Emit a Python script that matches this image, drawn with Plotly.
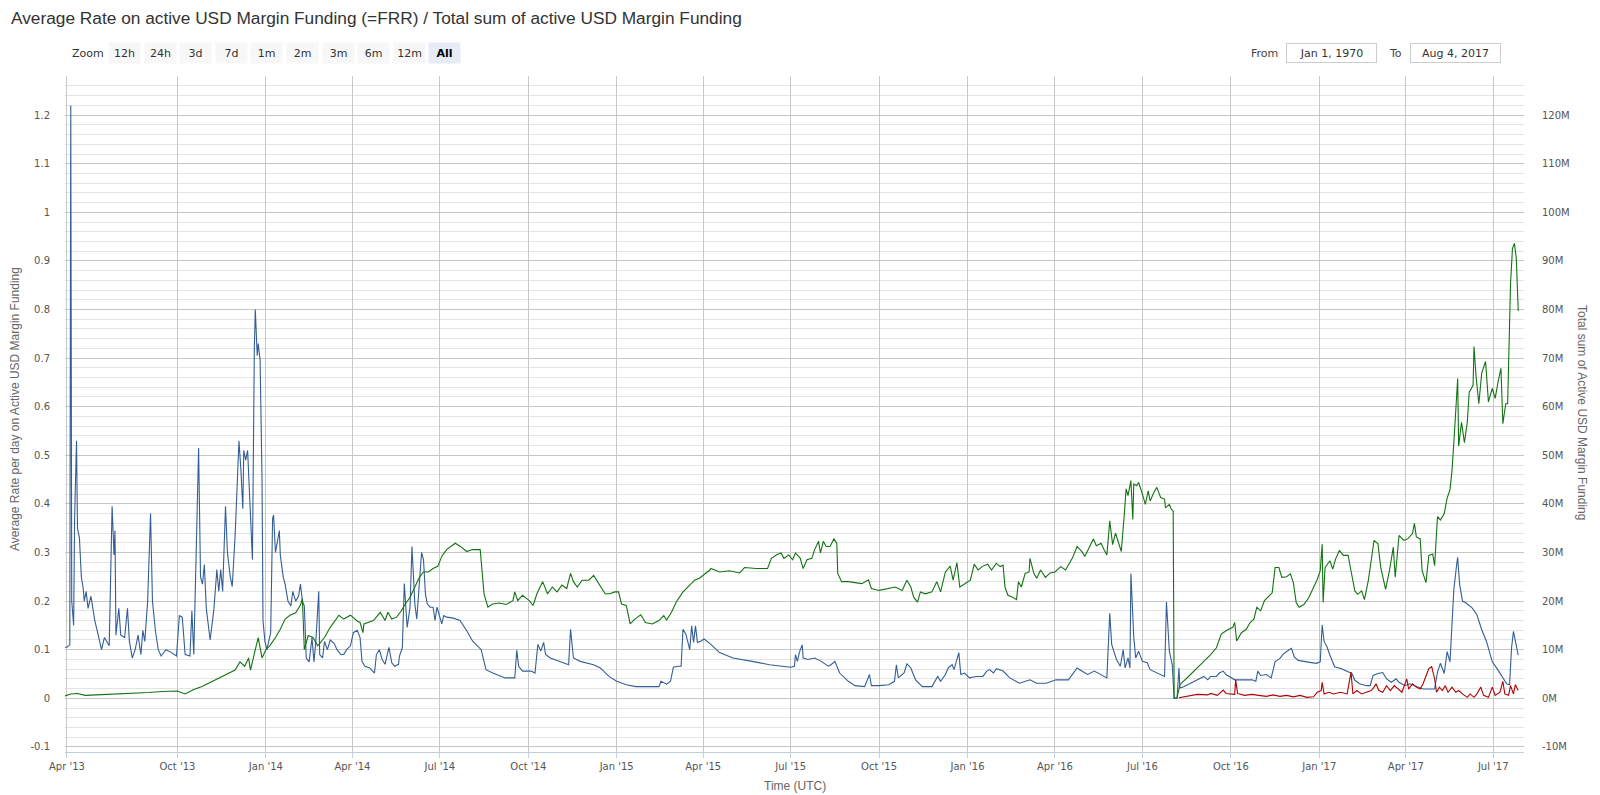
import plotly.graph_objects as go

# ---- data ----
# blue: average rate per day (left axis)
rate_dates = [
    "2013-03-30", "2013-04-01", "2013-04-04", "2013-04-05", "2013-04-06", "2013-04-08", "2013-04-09",
    "2013-04-10", "2013-04-11", "2013-04-12", "2013-04-13", "2013-04-14", "2013-04-16", "2013-04-18",
    "2013-04-19", "2013-04-21", "2013-04-23", "2013-04-26", "2013-04-28", "2013-04-30", "2013-05-03",
    "2013-05-07", "2013-05-10", "2013-05-15", "2013-05-18", "2013-05-20", "2013-05-21", "2013-05-22",
    "2013-05-25", "2013-05-27", "2013-05-31", "2013-06-03", "2013-08-12", "2013-08-15", "2013-08-18",
    "2013-08-21", "2013-08-24", "2013-08-26", "2013-08-28", "2013-08-31", "2013-09-03", "2013-09-05",
    "2013-09-08", "2013-09-11", "2013-09-14", "2013-09-19", "2013-09-24", "2013-09-30", "2013-10-03",
    "2013-10-06", "2013-10-09", "2013-10-14", "2013-10-16", "2013-10-18", "2013-10-21", "2013-10-23",
    "2013-10-25", "2013-10-27", "2013-10-29", "2013-10-31", "2013-11-04", "2013-11-08", "2013-11-11",
    "2013-11-13", "2013-11-15", "2013-11-17", "2013-11-20", "2013-11-22", "2013-11-25", "2013-11-27",
    "2013-11-30", "2013-12-02", "2013-12-04", "2013-12-06", "2013-12-08", "2013-12-09", "2013-12-11",
    "2013-12-13", "2013-12-15", "2013-12-16", "2013-12-18", "2013-12-20", "2013-12-21", "2013-12-23",
    "2013-12-24", "2013-12-26", "2013-12-28", "2013-12-29", "2013-12-31", "2014-01-02", "2014-01-04",
    "2014-01-06", "2014-01-08", "2014-01-09", "2014-01-11", "2014-01-13", "2014-01-15", "2014-01-16",
    "2014-01-19", "2014-01-21", "2014-01-24", "2014-01-27", "2014-01-29", "2014-02-01", "2014-02-04",
    "2014-02-06", "2014-02-08", "2014-02-10", "2014-02-12", "2014-02-15", "2014-02-18", "2014-02-20",
    "2014-02-22", "2014-02-25", "2014-02-26", "2014-03-01", "2014-03-03", "2014-03-06", "2014-03-09",
    "2014-03-13", "2014-03-16", "2014-03-20", "2014-03-23", "2014-03-26", "2014-03-30", "2014-04-02",
    "2014-04-06", "2014-04-09", "2014-04-11", "2014-04-14", "2014-04-19", "2014-04-24", "2014-04-26",
    "2014-04-29", "2014-05-02", "2014-05-05", "2014-05-09", "2014-05-12", "2014-05-15", "2014-05-19",
    "2014-05-20", "2014-05-23", "2014-05-25", "2014-05-28", "2014-05-31", "2014-06-02", "2014-06-05",
    "2014-06-07", "2014-06-10", "2014-06-12", "2014-06-14", "2014-06-16", "2014-06-18", "2014-06-21",
    "2014-06-24", "2014-06-26", "2014-06-28", "2014-07-03", "2014-07-05", "2014-07-08", "2014-07-15",
    "2014-07-22", "2014-07-29", "2014-08-04", "2014-08-13", "2014-08-18", "2014-08-25", "2014-09-07",
    "2014-09-17", "2014-09-19", "2014-09-21", "2014-09-25", "2014-10-04", "2014-10-08", "2014-10-11",
    "2014-10-14", "2014-10-17", "2014-10-19", "2014-10-24", "2014-11-04", "2014-11-12", "2014-11-14",
    "2014-11-17", "2014-11-24", "2014-12-08", "2014-12-15", "2014-12-24", "2015-01-01", "2015-01-11",
    "2015-01-21", "2015-02-04", "2015-02-14", "2015-02-16", "2015-02-22", "2015-02-26", "2015-03-01",
    "2015-03-06", "2015-03-09", "2015-03-11", "2015-03-14", "2015-03-18", "2015-03-20", "2015-03-22",
    "2015-03-24", "2015-03-26", "2015-03-30", "2015-04-02", "2015-04-09", "2015-04-18", "2015-05-02",
    "2015-05-22", "2015-06-09", "2015-06-22", "2015-07-01", "2015-07-05", "2015-07-06", "2015-07-08",
    "2015-07-10", "2015-07-13", "2015-07-14", "2015-07-19", "2015-07-26", "2015-08-02", "2015-08-09",
    "2015-08-12", "2015-08-16", "2015-08-21", "2015-08-30", "2015-09-06", "2015-09-16", "2015-09-21",
    "2015-09-23", "2015-10-01", "2015-10-11", "2015-10-17", "2015-10-19", "2015-10-21", "2015-10-27",
    "2015-10-30", "2015-11-03", "2015-11-08", "2015-11-15", "2015-11-25", "2015-12-01", "2015-12-04",
    "2015-12-09", "2015-12-12", "2015-12-16", "2015-12-18", "2015-12-23", "2015-12-25", "2015-12-29",
    "2016-01-03", "2016-01-10", "2016-01-17", "2016-01-21", "2016-01-24", "2016-01-28", "2016-01-31",
    "2016-02-07", "2016-02-14", "2016-02-24", "2016-03-06", "2016-03-13", "2016-03-23", "2016-04-02",
    "2016-04-15", "2016-04-20", "2016-04-24", "2016-04-29", "2016-05-05", "2016-05-12", "2016-05-19",
    "2016-05-25", "2016-05-28", "2016-05-30", "2016-06-04", "2016-06-08", "2016-06-11", "2016-06-13",
    "2016-06-16", "2016-06-18", "2016-06-19", "2016-06-22", "2016-06-24", "2016-06-27", "2016-07-01",
    "2016-07-06", "2016-07-09", "2016-07-16", "2016-07-24", "2016-07-26", "2016-07-29", "2016-08-01",
    "2016-08-03", "2016-08-06", "2016-08-08", "2016-08-09", "2016-08-13", "2016-08-20", "2016-08-27",
    "2016-09-03", "2016-09-07", "2016-09-10", "2016-09-16", "2016-09-19", "2016-09-23", "2016-09-26",
    "2016-10-05", "2016-10-12", "2016-10-23", "2016-10-27", "2016-10-29", "2016-11-01", "2016-11-07",
    "2016-11-12", "2016-11-16", "2016-11-21", "2016-11-25", "2016-11-30", "2016-12-03", "2016-12-06",
    "2016-12-10", "2016-12-19", "2016-12-29", "2017-01-02", "2017-01-04", "2017-01-06", "2017-01-09",
    "2017-01-12", "2017-01-17", "2017-01-24", "2017-01-31", "2017-02-04", "2017-02-07", "2017-02-12",
    "2017-02-19", "2017-02-23", "2017-02-26", "2017-03-03", "2017-03-08", "2017-03-12", "2017-03-17",
    "2017-03-22", "2017-03-25", "2017-03-31", "2017-04-05", "2017-04-10", "2017-04-15", "2017-04-19",
    "2017-04-26", "2017-05-01", "2017-05-04", "2017-05-07", "2017-05-11", "2017-05-14", "2017-05-17",
    "2017-05-19", "2017-05-21", "2017-05-24", "2017-05-25", "2017-05-27", "2017-05-30", "2017-06-02",
    "2017-06-09", "2017-06-14", "2017-06-19", "2017-06-24", "2017-06-30", "2017-07-05", "2017-07-10",
    "2017-07-15", "2017-07-18", "2017-07-20", "2017-07-22", "2017-07-24", "2017-07-27",
]
rate_values = [
    0.105, 0.105, 0.11, 1.22, 0.2, 0.15, 0.37,
    0.44, 0.53, 0.35, 0.335, 0.33, 0.25, 0.225,
    0.2, 0.22, 0.185, 0.21, 0.185, 0.16, 0.135,
    0.1, 0.125, 0.108, 0.395, 0.295, 0.345, 0.13,
    0.185, 0.13, 0.125, 0.185, 0.117, 0.083, 0.1,
    0.13, 0.09, 0.14, 0.117, 0.2, 0.38, 0.2,
    0.14, 0.1, 0.087, 0.1, 0.095, 0.087, 0.17,
    0.167, 0.09, 0.087, 0.18, 0.09, 0.345, 0.515,
    0.25, 0.235, 0.275, 0.185, 0.12, 0.185, 0.265,
    0.22, 0.265, 0.22, 0.395, 0.3, 0.25, 0.23,
    0.335, 0.45, 0.53, 0.47, 0.39, 0.51, 0.49,
    0.51, 0.42, 0.35, 0.285, 0.72, 0.8, 0.705,
    0.73, 0.695, 0.45, 0.16, 0.117, 0.1, 0.117,
    0.135, 0.37, 0.377, 0.3, 0.32, 0.345, 0.295,
    0.25, 0.235, 0.2, 0.19, 0.22, 0.2, 0.21,
    0.235, 0.2, 0.19, 0.083, 0.075, 0.125, 0.075,
    0.117, 0.22, 0.09, 0.083, 0.117, 0.1, 0.12,
    0.113, 0.1, 0.09, 0.09, 0.1, 0.108, 0.135,
    0.14, 0.125, 0.076, 0.066, 0.0625, 0.052, 0.09,
    0.1, 0.08, 0.07, 0.105, 0.073, 0.066, 0.07,
    0.087, 0.104, 0.236, 0.146, 0.1875, 0.3125, 0.194,
    0.163, 0.243, 0.30, 0.285, 0.215, 0.194, 0.1875,
    0.1875, 0.16, 0.1875, 0.153, 0.17, 0.167, 0.165,
    0.16, 0.139, 0.118, 0.1, 0.059, 0.052, 0.042,
    0.042, 0.099, 0.066, 0.056, 0.056, 0.052, 0.111,
    0.097, 0.115, 0.09, 0.083, 0.075, 0.069, 0.142,
    0.083, 0.076, 0.069, 0.0625, 0.045, 0.035, 0.028,
    0.024, 0.024, 0.024, 0.035, 0.029, 0.035, 0.064,
    0.066, 0.066, 0.142, 0.132, 0.1, 0.149, 0.115,
    0.149, 0.115, 0.118, 0.122, 0.111, 0.094, 0.083,
    0.076, 0.069, 0.066, 0.064, 0.066, 0.09, 0.076,
    0.094, 0.11, 0.083, 0.08, 0.083, 0.076, 0.066,
    0.069, 0.076, 0.052, 0.035, 0.026, 0.024, 0.049,
    0.026, 0.026, 0.028, 0.035, 0.069, 0.042, 0.052,
    0.071, 0.0625, 0.038, 0.024, 0.024, 0.045, 0.035,
    0.049, 0.0625, 0.069, 0.059, 0.094, 0.049, 0.052,
    0.042, 0.045, 0.045, 0.056, 0.059, 0.052, 0.061,
    0.056, 0.042, 0.031, 0.038, 0.031, 0.031, 0.038,
    0.038, 0.052, 0.0625, 0.056, 0.049, 0.056, 0.049,
    0.042, 0.175, 0.111, 0.08, 0.066, 0.1, 0.0625,
    0.083, 0.0625, 0.257, 0.125, 0.083, 0.097, 0.076,
    0.073, 0.059, 0.052, 0.045, 0.198, 0.097, 0.069,
    0.0, 0.0, 0.0625, 0.021, 0.024, 0.031, 0.038,
    0.045, 0.038, 0.045, 0.045, 0.052, 0.056, 0.049,
    0.038, 0.038, 0.038, 0.035, 0.056, 0.047, 0.049,
    0.042, 0.075, 0.082, 0.092, 0.099, 0.103, 0.085,
    0.078, 0.075, 0.072, 0.075, 0.151, 0.117, 0.106,
    0.089, 0.065, 0.061, 0.054, 0.051, 0.037, 0.03,
    0.026, 0.026, 0.047, 0.051, 0.053, 0.04, 0.033,
    0.04, 0.033, 0.026, 0.03, 0.026, 0.023, 0.019,
    0.019, 0.019, 0.054, 0.072, 0.051, 0.096, 0.075,
    0.151, 0.224, 0.276, 0.29, 0.235, 0.2, 0.197,
    0.186, 0.172, 0.141, 0.117, 0.075, 0.061, 0.045,
    0.03, 0.028, 0.103, 0.1375, 0.117, 0.089,
]

# green: total sum of active funding, in millions USD (right axis)
total_dates = [
    "2013-03-30", "2013-04-05", "2013-04-12", "2013-04-20", "2013-05-01", "2013-05-15", "2013-06-03",
    "2013-08-12", "2013-09-01", "2013-09-15", "2013-10-01", "2013-10-09", "2013-10-18", "2013-10-26",
    "2013-11-09", "2013-11-23", "2013-11-30", "2013-12-05", "2013-12-10", "2013-12-14", "2013-12-16",
    "2013-12-20", "2013-12-24", "2013-12-28", "2014-01-01", "2014-01-05", "2014-01-11", "2014-01-16",
    "2014-01-21", "2014-01-26", "2014-02-01", "2014-02-06", "2014-02-08", "2014-02-10", "2014-02-14",
    "2014-02-19", "2014-02-24", "2014-03-03", "2014-03-09", "2014-03-18", "2014-03-23", "2014-03-30",
    "2014-04-06", "2014-04-09", "2014-04-12", "2014-04-13", "2014-04-18", "2014-04-23", "2014-04-30",
    "2014-05-05", "2014-05-08", "2014-05-12", "2014-05-17", "2014-05-22", "2014-05-25", "2014-05-31",
    "2014-06-05", "2014-06-10", "2014-06-14", "2014-06-19", "2014-06-24", "2014-06-29", "2014-07-03",
    "2014-07-08", "2014-07-17", "2014-07-22", "2014-07-29", "2014-08-04", "2014-08-12", "2014-08-15",
    "2014-08-16", "2014-08-20", "2014-08-25", "2014-09-01", "2014-09-08", "2014-09-15", "2014-09-17",
    "2014-09-20", "2014-09-25", "2014-10-02", "2014-10-06", "2014-10-10", "2014-10-16", "2014-10-21",
    "2014-10-26", "2014-10-31", "2014-11-05", "2014-11-10", "2014-11-14", "2014-11-17", "2014-11-21",
    "2014-11-26", "2014-12-03", "2014-12-08", "2014-12-13", "2014-12-20", "2014-12-25", "2014-12-30",
    "2015-01-03", "2015-01-06", "2015-01-11", "2015-01-15", "2015-01-20", "2015-01-26", "2015-01-31",
    "2015-02-07", "2015-02-14", "2015-02-19", "2015-02-22", "2015-02-27", "2015-03-04", "2015-03-11",
    "2015-03-18", "2015-03-23", "2015-03-28", "2015-04-01", "2015-04-08", "2015-04-09", "2015-04-18",
    "2015-04-28", "2015-05-09", "2015-05-14", "2015-05-26", "2015-06-07", "2015-06-11", "2015-06-16",
    "2015-06-21", "2015-06-24", "2015-06-29", "2015-07-03", "2015-07-06", "2015-07-11", "2015-07-14",
    "2015-07-18", "2015-07-23", "2015-07-26", "2015-07-30", "2015-08-01", "2015-08-04", "2015-08-07",
    "2015-08-11", "2015-08-15", "2015-08-18", "2015-08-19", "2015-08-23", "2015-08-30", "2015-09-06",
    "2015-09-13", "2015-09-20", "2015-09-23", "2015-10-01", "2015-10-11", "2015-10-18", "2015-10-25",
    "2015-10-30", "2015-11-03", "2015-11-06", "2015-11-10", "2015-11-13", "2015-11-18", "2015-11-25",
    "2015-11-30", "2015-12-04", "2015-12-09", "2015-12-14", "2015-12-17", "2015-12-21", "2015-12-24",
    "2015-12-29", "2016-01-04", "2016-01-08", "2016-01-12", "2016-01-17", "2016-01-22", "2016-01-26",
    "2016-01-31", "2016-02-04", "2016-02-07", "2016-02-09", "2016-02-12", "2016-02-17", "2016-02-21",
    "2016-02-23", "2016-02-26", "2016-03-01", "2016-03-05", "2016-03-06", "2016-03-10", "2016-03-13",
    "2016-03-17", "2016-03-22", "2016-03-27", "2016-04-01", "2016-04-07", "2016-04-12", "2016-04-15",
    "2016-04-19", "2016-04-24", "2016-04-29", "2016-05-02", "2016-05-07", "2016-05-11", "2016-05-14",
    "2016-05-19", "2016-05-22", "2016-05-25", "2016-05-28", "2016-05-31", "2016-06-03", "2016-06-06",
    "2016-06-09", "2016-06-12", "2016-06-14", "2016-06-16", "2016-06-19", "2016-06-21", "2016-06-22",
    "2016-06-25", "2016-06-27", "2016-07-01", "2016-07-04", "2016-07-07", "2016-07-09", "2016-07-13",
    "2016-07-16", "2016-07-20", "2016-07-24", "2016-07-25", "2016-07-29", "2016-07-31", "2016-08-02",
    "2016-08-03", "2016-08-06", "2016-08-09", "2016-08-13", "2016-08-20", "2016-08-27", "2016-09-03",
    "2016-09-10", "2016-09-16", "2016-09-21", "2016-09-26", "2016-10-03", "2016-10-05", "2016-10-07",
    "2016-10-12", "2016-10-17", "2016-10-21", "2016-10-25", "2016-10-28", "2016-11-01", "2016-11-05",
    "2016-11-10", "2016-11-13", "2016-11-16", "2016-11-20", "2016-11-23", "2016-11-28", "2016-12-02",
    "2016-12-05", "2016-12-08", "2016-12-11", "2016-12-16", "2016-12-21", "2016-12-26", "2016-12-30",
    "2017-01-02", "2017-01-04", "2017-01-05", "2017-01-07", "2017-01-12", "2017-01-15", "2017-01-18",
    "2017-01-22", "2017-01-26", "2017-01-31", "2017-02-03", "2017-02-07", "2017-02-10", "2017-02-14",
    "2017-02-17", "2017-02-21", "2017-02-24", "2017-02-27", "2017-03-03", "2017-03-06", "2017-03-11",
    "2017-03-15", "2017-03-19", "2017-03-21", "2017-03-25", "2017-03-30", "2017-04-03", "2017-04-08",
    "2017-04-10", "2017-04-12", "2017-04-16", "2017-04-18", "2017-04-22", "2017-04-25", "2017-04-29",
    "2017-05-01", "2017-05-04", "2017-05-07", "2017-05-11", "2017-05-14", "2017-05-17", "2017-05-19",
    "2017-05-21", "2017-05-25", "2017-05-26", "2017-05-29", "2017-06-01", "2017-06-04", "2017-06-06",
    "2017-06-10", "2017-06-11", "2017-06-13", "2017-06-16", "2017-06-19", "2017-06-23", "2017-06-26",
    "2017-06-30", "2017-07-03", "2017-07-06", "2017-07-09", "2017-07-11", "2017-07-14", "2017-07-16",
    "2017-07-19", "2017-07-21", "2017-07-23", "2017-07-25", "2017-07-27",
]
total_values = [
    0.5, 0.9, 1.0, 0.6, 0.7, 0.8, 0.9,
    1.0, 1.2, 1.4, 1.5, 0.9, 1.8, 2.4,
    3.7, 5.0, 5.8, 7.5, 6.6, 8.3, 5.8,
    9.2, 12.5, 8.3, 10.0, 10.8, 12.5, 14.2,
    16.3, 17.1, 17.6, 19.2, 20.5, 10.0, 12.9,
    12.5, 10.8, 12.5, 14.6, 17.1, 16.3, 17.1,
    15.9, 15.6, 13.5, 15.3, 15.6, 16.0, 17.7,
    16.0, 17.7, 16.3, 16.7, 18.0, 19.1, 20.8,
    22.9, 25.0, 26.0, 26.0, 26.7, 27.2, 29.2,
    30.6, 31.9, 31.3, 30.2, 30.6, 30.6, 24.3,
    21.5, 18.75, 19.4, 19.6, 19.3, 20.1, 21.9,
    20.1, 21.2, 20.1, 19.1, 21.5, 24.0, 21.5,
    22.9, 21.9, 23.3, 22.6, 25.7, 24.0, 22.9,
    24.3, 24.3, 25.3, 23.6, 21.5, 21.5, 21.9,
    21.9, 19.4, 19.1, 15.3, 16.3, 17.2, 15.6,
    15.3, 16.0, 17.0, 16.1, 17.7, 19.8, 21.9,
    23.3, 24.3, 24.7, 25.3, 26.4, 26.7, 26.0,
    26.25, 25.8, 26.9, 26.7, 26.7, 28.8, 29.5,
    29.9, 28.8, 29.5, 28.5, 29.9, 28.8, 26.7,
    28.5, 28.8, 30.6, 32.3, 29.9, 32.3, 31.25,
    31.25, 32.8, 31.9, 25.7, 24.0, 24.0, 23.75,
    23.6, 24.4, 22.6, 22.2, 22.6, 22.9, 22.2,
    24.3, 22.9, 20.8, 19.8, 21.9, 21.5, 21.9,
    24.0, 21.9, 26.0, 27.2, 24.3, 27.9, 22.9,
    23.6, 24.3, 27.6, 26.4, 27.2, 27.6, 26.4,
    27.8, 27.1, 27.4, 22.9, 21.2, 20.8, 20.3,
    24.0, 22.9, 25.7, 26.0, 28.8, 25.7, 24.7,
    26.4, 24.9, 25.8, 26.0, 27.1, 26.4, 27.4,
    28.8, 31.25, 30.2, 29.2, 31.25, 32.8, 31.4,
    31.9, 30.6, 29.5, 36.5, 31.6, 34.0, 31.9,
    30.2, 37.5, 43.1, 41.7, 44.8, 36.8, 44.1,
    43.75, 44.4, 42.0, 39.9, 42.7, 40.6, 42.4,
    43.4, 41.3, 41.0, 39.2, 39.9, 38.9, 38.5,
    0.0, 0.1, 2.8, 3.5, 4.9, 6.25, 7.6,
    9.0, 10.4, 13.2, 13.9, 14.6, 15.6, 11.8,
    13.5, 14.2, 15.6, 16.3, 18.75, 18.0, 20.1,
    21.2, 21.7, 26.9, 26.9, 24.9, 25.0, 25.6,
    23.8, 19.7, 18.75, 19.3, 20.7, 22.8, 24.5,
    26.25, 31.7, 19.7, 26.9, 28.3, 26.6, 28.7,
    30.4, 29.4, 29.4, 26.25, 22.1, 21.4, 22.1,
    20.3, 24.2, 28.3, 32.5, 31.8, 26.9, 22.4,
    26.25, 31.1, 24.9, 33.5, 32.5, 32.8, 33.9,
    36.0, 33.2, 32.8, 26.25, 23.8, 29.4, 29.7,
    27.3, 37.4, 36.7, 38.0, 41.2, 42.9, 46.7,
    52.6, 65.8, 51.9, 56.8, 52.6, 56.8, 63.0,
    64.4, 72.4, 66.5, 60.6, 66.9, 69.3, 61.0,
    63.75, 61.7, 65.1, 67.9, 56.5, 60.6, 60.6,
    85.3, 92.6, 93.6, 90.5, 79.7,
]

# red: second rate series, only after Aug 2016 (left axis)
frr_dates = [
    "2016-08-08", "2016-08-13", "2016-08-20", "2016-08-27", "2016-09-07", "2016-09-10", "2016-09-17",
    "2016-09-23", "2016-09-26", "2016-10-05", "2016-10-06", "2016-10-08", "2016-10-15", "2016-10-23",
    "2016-10-30", "2016-11-07", "2016-11-14", "2016-11-21", "2016-11-28", "2016-12-05", "2016-12-12",
    "2016-12-19", "2016-12-26", "2016-12-30", "2017-01-03", "2017-01-04", "2017-01-06", "2017-01-11",
    "2017-01-16", "2017-01-23", "2017-01-30", "2017-02-03", "2017-02-05", "2017-02-09", "2017-02-14",
    "2017-02-19", "2017-02-24", "2017-02-27", "2017-03-01", "2017-03-04", "2017-03-08", "2017-03-12",
    "2017-03-16", "2017-03-20", "2017-03-24", "2017-03-28", "2017-04-02", "2017-04-04", "2017-04-08",
    "2017-04-12", "2017-04-16", "2017-04-19", "2017-04-23", "2017-04-25", "2017-04-28", "2017-05-01",
    "2017-05-03", "2017-05-06", "2017-05-09", "2017-05-12", "2017-05-15", "2017-05-19", "2017-05-23",
    "2017-05-26", "2017-05-30", "2017-06-04", "2017-06-07", "2017-06-11", "2017-06-14", "2017-06-18",
    "2017-06-21", "2017-06-26", "2017-06-30", "2017-07-03", "2017-07-08", "2017-07-11", "2017-07-13",
    "2017-07-17", "2017-07-19", "2017-07-22", "2017-07-24", "2017-07-27",
]
frr_values = [
    0.001, 0.003, 0.006, 0.008, 0.007, 0.01, 0.006,
    0.017, 0.01, 0.008, 0.038, 0.01, 0.006, 0.008,
    0.006, 0.004, 0.007, 0.004, 0.006, 0.003, 0.006,
    0.002, 0.003, 0.0125, 0.016, 0.033, 0.009, 0.0125,
    0.009, 0.0125, 0.009, 0.054, 0.009, 0.016, 0.009,
    0.0125, 0.016, 0.023, 0.03, 0.016, 0.0125, 0.026,
    0.016, 0.026, 0.019, 0.0125, 0.04, 0.019, 0.03,
    0.023, 0.019, 0.03, 0.051, 0.061, 0.065, 0.04,
    0.0125, 0.023, 0.016, 0.026, 0.0125, 0.023, 0.0125,
    0.016, 0.009, 0.002, 0.009, 0.002, 0.009, 0.023,
    0.006, 0.002, 0.023, 0.006, 0.0125, 0.035, 0.009,
    0.006, 0.026, 0.009, 0.028, 0.016,
]

tick_dates = ["2013-04-01", "2013-10-01", "2014-01-01", "2014-04-01", "2014-07-01", "2014-10-01",
              "2015-01-01", "2015-04-01", "2015-07-01", "2015-10-01", "2016-01-01", "2016-04-01",
              "2016-07-01", "2016-10-01", "2017-01-01", "2017-04-01", "2017-07-01"]
tick_labels = ["Apr '13", "Oct '13", "Jan '14", "Apr '14", "Jul '14", "Oct '14", "Jan '15", "Apr '15",
               "Jul '15", "Oct '15", "Jan '16", "Apr '16", "Jul '16", "Oct '16", "Jan '17", "Apr '17",
               "Jul '17"]
rate_ticks = [-0.1, 0, 0.1, 0.2, 0.3, 0.4, 0.5, 0.6, 0.7, 0.8, 0.9, 1.0, 1.1, 1.2]
rate_tick_labels = ["-0.1", "0", "0.1", "0.2", "0.3", "0.4", "0.5", "0.6", "0.7", "0.8", "0.9",
                    "1", "1.1", "1.2"]
total_ticks = [-10, 0, 10, 20, 30, 40, 50, 60, 70, 80, 90, 100, 110, 120]
total_tick_labels = ["-10M", "0M", "10M", "20M", "30M", "40M", "50M", "60M", "70M", "80M", "90M",
                     "100M", "110M", "120M"]
zoom_buttons = ["12h", "24h", "3d", "7d", "1m", "2m", "3m", "6m", "12m", "All"]

# ---- layout geometry ----
# the page puts the plot 8px in from the top-left corner (default body margin),
# so the figure is sized and placed to land on the reference's pixel positions
OFF = 8
W, H = 1600 - OFF, 795 - OFF
PL, PR, PT, PB = 65 - OFF, 1524 - OFF, 76 - OFF, 752 - OFF
TICK_FONT = dict(family="DejaVu Sans", size=10, color="#555555")
UI_FONT = "DejaVu Sans"


def px(x):
    # reference-page x pixel -> paper fraction
    return (x - OFF - PL) / (PR - PL)


def py(y):
    # reference-page y pixel -> paper fraction
    return (PB - (y - OFF)) / (PB - PT)


def note(text, x, y, **kw):
    d = dict(text=text, x=px(x), y=py(y), xref="paper", yref="paper", showarrow=False,
             xanchor="center", yanchor="middle")
    d.update(kw)
    return d


fig = go.Figure()
fig.add_trace(go.Scatter(x=total_dates, y=total_values, mode="lines", yaxis="y2",
                         line=dict(color="#137313", width=1.1), name="Total sum"))
fig.add_trace(go.Scatter(x=rate_dates, y=rate_values, mode="lines",
                         line=dict(color="#345e96", width=1.1), name="Average rate"))
fig.add_trace(go.Scatter(x=frr_dates, y=frr_values, mode="lines",
                         line=dict(color="#b00000", width=1.1), name="FRR"))

annotations = [note("Zoom", 88, 53, font=dict(family=UI_FONT, size=11, color="#333333"))]
for i, b in enumerate(zoom_buttons):
    active = b == "All"
    annotations.append(note(
        f"<b>{b}</b>" if active else b, 124.5 + i * 35.6, 53,
        width=31, height=20, borderpad=0,
        bgcolor="#e6ebf5" if active else "#f7f7f7",
        font=dict(family=UI_FONT, size=11, color="#000000" if active else "#333333")))
annotations.append(note("From", 1264, 53, font=dict(family=UI_FONT, size=11, color="#444444")))
annotations.append(note("To", 1395, 53, font=dict(family=UI_FONT, size=11, color="#444444")))
for cx, label in [(1331.5, "Jan 1, 1970"), (1455, "Aug 4, 2017")]:
    annotations.append(note(label, cx, 53, width=89, height=18, borderpad=0,
                            bordercolor="#cccccc", borderwidth=1, bgcolor="#ffffff",
                            font=dict(family=UI_FONT, size=11, color="#333333")))
annotations.append(note("Average Rate per day on Active USD Margin Funding", 15, 409, textangle=-90,
                        font=dict(family="Liberation Sans", size=12, color="#666666")))
annotations.append(note("Total sum of Active USD Margin Funding", 1582, 412, textangle=90,
                        font=dict(family="Liberation Sans", size=12, color="#666666")))
annotations.append(note("Time (UTC)", 795, 786,
                        font=dict(family="Liberation Sans", size=12, color="#666666")))

fig.update_layout(
    width=W, height=H,
    margin=dict(l=PL, r=W - PR, t=PT, b=H - PB, autoexpand=False),
    paper_bgcolor="white", plot_bgcolor="white",
    showlegend=False,
    title=dict(text="Average Rate on active USD Margin Funding (=FRR) / Total sum of active USD Margin Funding",
               x=3 / W, xanchor="left", y=1, yanchor="top", pad=dict(t=4), xref="container",
               yref="container", font=dict(family="Liberation Sans", size=17.3, color="#333333")),
    xaxis=dict(
        type="date", range=["2013-03-30", "2017-08-02"], automargin=False,
        rangebreaks=[dict(bounds=["2013-06-05", "2013-08-12"])],
        tickvals=tick_dates, ticktext=tick_labels, tickfont=TICK_FONT,
        showgrid=True, gridcolor="#c8c8c8", gridwidth=1,
        ticks="outside", ticklen=5, tickcolor="#c0d0e0",
        showline=True, linecolor="#c0d0e0", linewidth=1, zeroline=False,
    ),
    yaxis=dict(
        range=[-0.1105, 1.2805], tickvals=rate_ticks, ticktext=rate_tick_labels, tickfont=TICK_FONT,
        showgrid=True, gridcolor="#c6c6c6", gridwidth=1, zeroline=False, showline=False,
        ticklabelstandoff=14, automargin=False,
        minor=dict(dtick=0.02, tick0=0, showgrid=True, gridcolor="#e4e4e4", gridwidth=1),
    ),
    yaxis2=dict(
        overlaying="y", side="right", range=[-11.05, 128.05], automargin=False,
        tickvals=total_ticks, ticktext=total_tick_labels, tickfont=TICK_FONT,
        showgrid=False, zeroline=False, showline=False, ticklabelstandoff=17,
    ),
    annotations=annotations,
)

fig.write_html("out.html")
